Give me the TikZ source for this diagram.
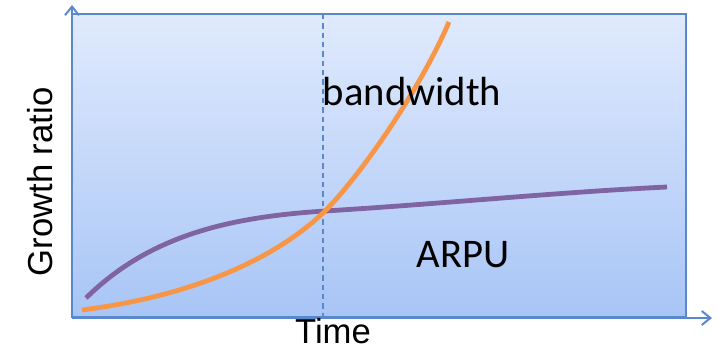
\documentclass[tikz,border=0pt]{standalone}
\usepackage{fontspec}
\setmainfont{Carlito}
\newfontfamily\arialfont{Liberation Sans}
\usetikzlibrary{arrows.meta}

\definecolor{axisblue}{HTML}{5A88CC}
\definecolor{bgtop}{HTML}{E0EAFD}
\definecolor{bgbottom}{HTML}{A8C5F6}
\definecolor{bworange}{HTML}{F79646}
\definecolor{arpupurple}{HTML}{8064A2}

\tikzset{
  axis/.style={axisblue, line width=1.5pt, -{Straight Barb[length=6.5pt,width=10.5pt]}},
  curve/.style={line width=3.6pt},
  biglabel/.style={anchor=base, font=\fontsize{30.5}{36}\selectfont},
  axislabel/.style={anchor=base, font=\arialfont\fontsize{26}{30}\selectfont}
}

\begin{document}
\begin{tikzpicture}[x=0.75pt,y=-0.75pt]
\useasboundingbox (0,0) rectangle (722,350);

% plot area
\shade[top color=bgtop, bottom color=bgbottom] (72,14) rectangle (686,317);
\draw[axisblue, line width=1.5pt] (72,14) rectangle (686,317);

% axes
\coordinate (origin) at (72,318);
\coordinate (ytip) at (72,5);
\coordinate (xtip) at (712,318);
\draw[axis] (origin) -- (ytip);
\draw[axis] (origin) -- (xtip);

% crossing time
\coordinate (cross top) at (323,14);
\coordinate (cross bottom) at (323,317);
\coordinate (cross) at (325,211);
\draw[axisblue, line width=1.1pt, dash pattern=on 4pt off 3pt] (cross top) -- (cross bottom);

% curves
\draw[curve, arpupurple] (86,298) .. controls (150,235) and (230,217) .. (cross)
  .. controls (440,204) and (560,192) .. (667,187);
\draw[curve, bworange] (82,310) .. controls (200,295) and (280,255) .. (cross)
  .. controls (360,176) and (420,90) .. (449,22);

% labels
\node[biglabel] (bw) at (412,105) {bandwidth};
\node[biglabel] (arpu) at (463,267) {ARPU};
\node[axislabel] (time) at (333,343) {Time};
\node[axislabel, rotate=90] (growth) at (52,182) {Growth ratio};
\end{tikzpicture}
\end{document}
